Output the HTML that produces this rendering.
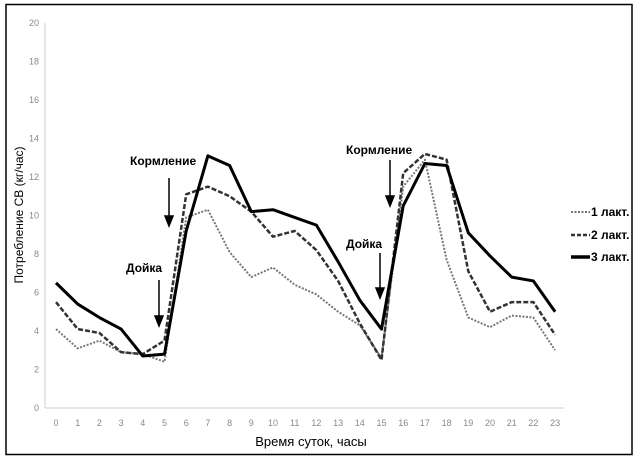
<!DOCTYPE html>
<html><head><meta charset="utf-8"><style>
html,body{margin:0;padding:0;background:#fff;}
svg{display:block;}
.t{font-family:"Liberation Sans",sans-serif;}
</style></head><body>
<svg width="637" height="460" viewBox="0 0 637 460" xmlns="http://www.w3.org/2000/svg">
<rect x="6" y="4.5" width="626" height="450" fill="#fff" stroke="#000" stroke-width="1.5"/>
<g stroke="#ccc" stroke-width="1">
<line x1="45" y1="23" x2="45" y2="408"/>
<line x1="45" y1="408" x2="564" y2="408"/>
</g>
<g id="yt" class="t" font-size="9" fill="#888" text-anchor="end"></g>
<g id="xt" class="t" font-size="9" fill="#888" text-anchor="middle"></g>
<g id="lines"></g>
<text class="t" x="311" y="446" font-size="13" text-anchor="middle" fill="#000">Время суток, часы</text>
<text class="t" transform="translate(23,215) rotate(-90)" font-size="12" text-anchor="middle" fill="#000">Потребление СВ (кг/час)</text>
<g class="t" font-size="12" font-weight="bold" fill="#000">
<text x="130" y="165">Кормление</text>
<text x="126" y="272">Дойка</text>
<text x="346" y="154">Кормление</text>
<text x="346" y="248">Дойка</text>
</g>
<g stroke="#000" stroke-width="1.5" fill="#000">
<line x1="169" y1="178" x2="169" y2="218"/><polygon points="165,216 173,216 169,226"/>
<line x1="159" y1="280" x2="159" y2="318"/><polygon points="155,316 163,316 159,326"/>
<line x1="390" y1="160" x2="390" y2="198"/><polygon points="386,196 394,196 390,206"/>
<line x1="380" y1="253" x2="380" y2="290"/><polygon points="376,288 384,288 380,298"/>
</g>
<g class="t" font-size="12" font-weight="bold" fill="#000">
<line x1="571" y1="212" x2="590" y2="212" stroke="#777" stroke-width="2" stroke-dasharray="2,1.5"/>
<text x="591" y="216">1 лакт.</text>
<line x1="571" y1="235" x2="590" y2="235" stroke="#333" stroke-width="2.5" stroke-dasharray="4,2"/>
<text x="591" y="239">2 лакт.</text>
<line x1="571" y1="257" x2="590" y2="257" stroke="#000" stroke-width="3.5"/>
<text x="591" y="261">3 лакт.</text>
</g>
</svg>
<script>
const NS="http://www.w3.org/2000/svg";
const X=i=>56+i*21.7, Y=v=>408-v*19.25;
const yt=document.getElementById('yt');
for(let v=0;v<=20;v+=2){const t=document.createElementNS(NS,'text');t.setAttribute('x',39);t.setAttribute('y',Y(v)+3);t.textContent=v;yt.appendChild(t);}
const xt=document.getElementById('xt');
for(let i=0;i<24;i++){const t=document.createElementNS(NS,'text');t.setAttribute('x',X(i));t.setAttribute('y',426);t.textContent=i;xt.appendChild(t);}
const d1=[4.1,3.1,3.5,2.9,2.8,2.4,9.9,10.3,8.1,6.8,7.3,6.4,5.9,5.0,4.3,2.6,11.5,12.9,7.7,4.7,4.2,4.8,4.7,3.0];
const d2=[5.5,4.1,3.9,2.9,2.8,3.5,11.1,11.5,11.0,10.2,8.9,9.2,8.2,6.6,4.4,2.5,12.2,13.2,12.9,7.1,5.0,5.5,5.5,3.8];
const d3=[6.5,5.4,4.7,4.1,2.7,2.8,9.2,13.1,12.6,10.2,10.3,9.9,9.5,7.6,5.6,4.1,10.5,12.7,12.6,9.1,7.9,6.8,6.6,5.0];
const g=document.getElementById('lines');
[[d1,'#777',2,'2,1.5'],[d2,'#333',2.5,'5,2'],[d3,'#000',3,'']].forEach(([d,c,w,da])=>{
const p=document.createElementNS(NS,'polyline');
p.setAttribute('points',d.map((v,i)=>X(i)+','+Y(v)).join(' '));
p.setAttribute('fill','none');p.setAttribute('stroke',c);p.setAttribute('stroke-width',w);
if(da)p.setAttribute('stroke-dasharray',da);p.setAttribute('stroke-linejoin','round');g.appendChild(p);});
</script>
</body></html>
